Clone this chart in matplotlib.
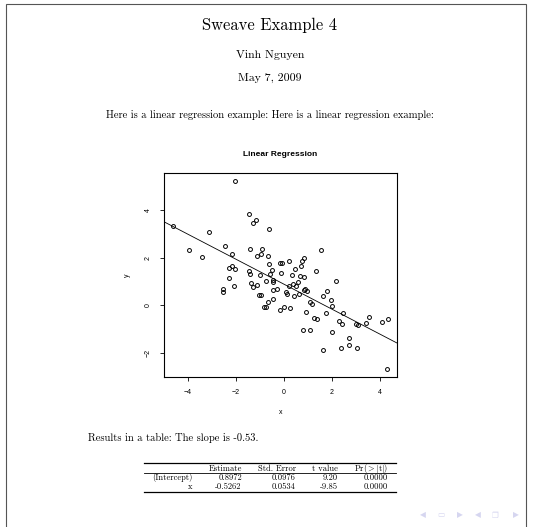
import numpy as np
import matplotlib
matplotlib.use("Agg")
import matplotlib.pyplot as plt
from matplotlib.patches import Rectangle
from matplotlib.lines import Line2D

plt.rcParams["mathtext.fontset"] = "cm"
plt.rcParams["axes.unicode_minus"] = True

# ── data ─────────────────────────────────────────────────────────────────────
x_vals = [-4.63, -3.93, -3.39, -3.10, -2.04, -2.45, -2.14, -2.28, -2.27, -2.15,
          -2.04, -2.06, -2.53, -2.53, -1.43, -1.28, -1.15, -0.63, -1.39, -0.89,
          -1.11, -0.95, -0.65, -1.46, -1.39, -0.98, -0.60, -0.47, -0.58, -0.45,
          -0.75, -0.15, -0.07, 0.23, -0.10, 0.36, 0.48, 0.73, 0.78, 0.85,
          0.69, 0.86, 1.36, 1.55, -1.38, -1.27, -1.12, -0.43, -1.03, -0.96,
          -0.84, -0.76, -0.64, -0.46, -0.46, -0.29, -0.17, 0.00, 0.26, 0.10,
          0.14, 0.23, 0.40, 0.50, 0.60, 0.43, 0.65, 0.86, 0.98, 1.10,
          1.17, 0.92, 0.79, 1.10, 1.26, 1.39, 1.65, 1.82, 1.75, 1.63,
          1.96, 2.00, 2.03, 2.18, 2.29, 2.44, 2.48, 2.40, 2.71, 2.71,
          3.01, 3.11, 3.05, 3.43, 3.55, 4.08, 4.36, 4.32, 0.88]
y_vals = [3.36, 2.32, 2.03, 3.11, 5.26, 2.52, 2.18, 1.17, 1.59, 1.64,
          1.53, 0.83, 0.68, 0.57, 3.84, 3.46, 3.59, 3.21, 2.39, 2.36,
          2.07, 2.15, 2.08, 1.46, 1.31, 1.27, 1.73, 1.49, 1.31, 1.07,
          1.03, 1.78, 1.78, 1.86, 1.36, 1.27, 1.53, 1.66, 1.86, 2.01,
          1.24, 1.18, 1.43, 2.32, 0.95, 0.76, 0.84, 0.97, 0.45, 0.45,
          -0.05, -0.07, 0.16, 0.25, 0.65, 0.67, -0.21, -0.06, -0.10, 0.55,
          0.46, 0.83, 0.90, 0.83, 0.98, 0.41, 0.46, 0.63, 0.60, 0.13,
          0.04, -0.27, -1.03, -1.03, -0.52, -0.57, 0.41, 0.59, -0.32, -1.89,
          0.21, -0.04, -1.14, 1.01, -0.66, -0.80, -0.34, -1.81, -1.39, -1.68,
          -0.80, -0.82, -1.80, -0.76, -0.49, -0.70, -0.59, -2.70, 0.70]

intercept = 0.8972
slope = -0.5262

x_ticks = [-4, -2, 0, 2, 4]
y_ticks = [-2, 0, 2, 4]

row_names = ["(Intercept)", "x"]
col_names = ["Estimate", "Std. Error", "t value", r"Pr($>$$|$t$|$)"]
estimates = ["0.8972", "-0.5262"]
std_errors = ["0.0976", "0.0534"]
t_values = ["9.20", "-9.85"]
p_values = ["0.0000", "0.0000"]

W, H = 533, 527
SERIF = ["cmr10", "DejaVu Serif"]
SANS = ["Liberation Sans", "DejaVu Sans"]
BODY = 7.6


def fx(px):
    return px / W


def fy(py):
    return 1 - py / H


fig = plt.figure(figsize=(W / 100, H / 100), dpi=100)
fig.patch.set_facecolor("white")

# page frame
fig.add_artist(Rectangle((fx(6), -0.02), fx(520), fy(4) + 0.02, transform=fig.transFigure,
                         fill=False, edgecolor="#555555", linewidth=0.8))

# ── slide text ──────────────────────────────────────────────────────────────
fig.text(fx(270), fy(25), "Sweave Example 4", family=SERIF, fontsize=11.9,
         ha="center", va="center")
fig.text(fx(270), fy(55.5), "Vinh Nguyen", family=SERIF, fontsize=8.5,
         ha="center", va="center")
fig.text(fx(270), fy(77.5), "May 7, 2009", family=SERIF, fontsize=8.5,
         ha="center", va="center")
fig.text(fx(106), fy(115), "Here is a linear regression example: Here is a linear regression example:",
         family=SERIF, fontsize=BODY, ha="left", va="center")

# ── R style scatter plot ─────────────────────────────────────────────────────
ax = fig.add_axes([fx(164), fy(377), fx(233), 204 / H])
ax.plot(x_vals, y_vals, linestyle="none", marker="o", markersize=2.8,
        markerfacecolor="none", markeredgecolor="black", markeredgewidth=0.7)

xr = max(x_vals) - min(x_vals)
yr = max(y_vals) - min(y_vals)
ax.set_xlim(min(x_vals) - 0.04 * xr, max(x_vals) + 0.04 * xr)
ax.set_ylim(min(y_vals) - 0.04 * yr, max(y_vals) + 0.04 * yr)
ax.axline((0, intercept), slope=slope, color="black", linewidth=0.6)

ax.set_xticks(x_ticks)
ax.set_yticks(y_ticks)
ax.tick_params(direction="out", length=3.2, width=0.6, labelsize=5, pad=5.8)
ax.tick_params(axis="y", labelrotation=90)
for lab in ax.get_xticklabels() + ax.get_yticklabels():
    lab.set_family(SANS)
for lab in ax.get_yticklabels():
    lab.set_va("center")
for sp in ax.spines.values():
    sp.set_linewidth(0.8)

ax.set_xlabel("x", family=SANS, fontsize=5)
ax.set_ylabel("y", family=SANS, fontsize=5)
ax.xaxis.set_label_coords(0.5, -0.155)
ax.yaxis.set_label_coords(-0.142, 0.5)

fig.text(fx(280.5), fy(154), "Linear Regression", family=SANS, fontsize=6,
         fontweight="bold", ha="center", va="center")

# ── results text and table ───────────────────────────────────────────────────
fig.text(fx(88), fy(438), "Results in a table: The slope is -0.53.", family=SERIF,
         fontsize=BODY, ha="left", va="center")

TF = 6.1        # \footnotesize
gap = 8.0       # column padding (px, each side)
table_cx = 270
header_y = 468.5
row_y = [478, 486.5]

renderer = fig.canvas.get_renderer()


def text_w(s):
    t = fig.text(0, 0, s, family=SERIF, fontsize=TF)
    w = t.get_window_extent(renderer).width
    t.remove()
    return w


cells = [[""] + row_names,
         [col_names[0]] + estimates,
         [col_names[1]] + std_errors,
         [col_names[2]] + t_values,
         [col_names[3]] + p_values]
widths = [max(text_w(s) for s in col) for col in cells]
total = sum(widths) + 2 * gap * len(widths)
left = table_cx - total / 2
rights = []
pos = left
for w in widths:
    pos += 2 * gap + w
    rights.append(pos - gap)

for yy, lw in [(462.5, 0.9), (473.3, 0.6), (492, 0.9)]:
    fig.add_artist(Line2D([fx(left), fx(left + total)], [fy(yy)] * 2,
                          color="black", linewidth=lw))

for col, xr_px in zip(cells, rights):
    for s, yy in zip(col, [header_y] + row_y):
        if s:
            fig.text(fx(xr_px), fy(yy), s, family=SERIF, fontsize=TF,
                     ha="right", va="center")

# beamer-ish navigation symbols
nav = ["◀", "▭", "▶", "◀", "❐", "▶"]
nav_x = [423, 441, 460, 478, 495, 516]
for s, px in zip(nav, nav_x):
    fig.text(fx(px), fy(515), s, family=["DejaVu Sans"], fontsize=5.5, color="#d6d6f0",
             ha="center", va="center")

fig.savefig("out.png", dpi=100)
